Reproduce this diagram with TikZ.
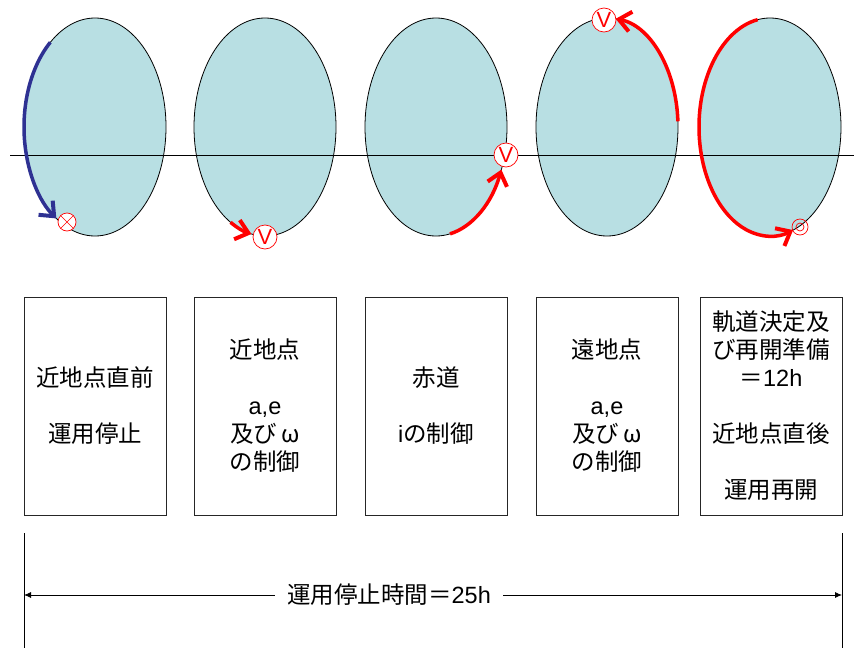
\documentclass[tikz,border=0pt]{standalone}
\usepackage{fontspec}
\setmainfont{Liberation Sans}
\newfontfamily\jp{Noto Sans CJK JP}
\newfontfamily\jpfw[RawFeature=+fwid]{Noto Sans CJK JP}
\usetikzlibrary{arrows.meta,shapes.geometric}
\definecolor{orbfill}{RGB}{184,223,227}
\definecolor{navyarc}{RGB}{46,49,146}
\newcommand\lat[1]{{\rmfamily #1}}
\newcommand\omg{{\jpfw ω}}
\begin{document}
\begin{tikzpicture}[x=1pt,y=-1pt,
  orbit/.style={ellipse,draw=black,line width=0.8pt,fill=orbfill,minimum width=142pt,minimum height=218pt,inner sep=0},
  phasebox/.style={draw=black!85,line width=1pt,minimum width=142pt,minimum height=218pt,align=center,font=\jp\fontsize{23.5}{28}\selectfont,inner sep=0},
  thr/.style={line width=3.5pt,red,-{Straight Barb[length=12pt,width=20pt,line width=4pt]}},
  thb/.style={thr,navyarc},
  vmark/.style={circle,draw=red,line width=0.7pt,fill=white,minimum size=24pt,inner sep=0,text=red,font=\rmfamily\fontsize{22}{22}\selectfont},
  xmark/.style={circle,draw=red,line width=0.7pt,fill=white,minimum size=18pt,inner sep=0},
  omark/.style={circle,draw=red,line width=0.7pt,inner sep=0},
  thin/.style={line width=0.8pt,black},
]
\useasboundingbox (0,0) rectangle (854,648);

% orbits
\node[orbit] (e1) at (95,127) {};
\node[orbit] (e2) at (265,127) {};
\node[orbit] (e3) at (436,127) {};
\node[orbit] (e4) at (607,127) {};
\node[orbit] (e5) at (770,127) {};

% equator line
\coordinate (hl) at (10,155);
\coordinate (hr) at (854,155);
\draw[thin] (hl) -- (hr);

% manoeuvre arcs
\draw[thb] ([shift={(-129:71 and 109)}]e1.center) arc[start angle=-129,end angle=-237,x radius=71,y radius=109];
\draw[thr] ([shift={(119:71 and 109)}]e2.center) arc[start angle=119,end angle=101,x radius=71,y radius=109];
\draw[thr] ([shift={(78.6:71 and 109)}]e3.center) arc[start angle=78.6,end angle=23,x radius=71,y radius=109];
\draw[thr] ([shift={(-3:71 and 109)}]e4.center) arc[start angle=-3,end angle=-83,x radius=71,y radius=109];
\draw[thr] ([shift={(-100:71 and 109)}]e5.center) arc[start angle=-100,end angle=-289,x radius=71,y radius=109];

% markers
\node[xmark] (m1) at (67,222) {};
\draw[red,line width=0.7pt] (m1.north east) -- (m1.south west) (m1.north west) -- (m1.south east);
\node[vmark] (m2) at (265,237) {V};
\node[vmark] (m3) at (506,155) {V};
\node[vmark] (m4) at (604,20) {V};
\node[omark,minimum size=16pt] (m5) at (800,227) {};
\node[omark,minimum size=8pt] (m5i) at (m5) {};

% phase boxes
\node[phasebox] (b1) at (95,406) {近地点直前\\[28pt]運用停止};
\node[phasebox] (b2) at (265,406) {近地点\\[28pt]\lat{a,e}\\及び\,\omg\\の制御};
\node[phasebox] (b3) at (436,406) {赤道\\[28pt]\lat{i}の制御};
\node[phasebox] (b4) at (607,406) {遠地点\\[28pt]\lat{a,e}\\及び\,\omg\\の制御};
\node[phasebox] (b5) at (771,406) {軌道決定及\\び再開準備\\＝\lat{12h}\\[28pt]近地点直後\\[28pt]運用再開};

% duration dimension
\coordinate (vl1t) at (24,533);
\coordinate (vl1b) at (24,648);
\coordinate (vl2t) at (842,533);
\coordinate (vl2b) at (842,648);
\draw[thin] (vl1t) -- (vl1b);
\draw[thin] (vl2t) -- (vl2b);
\node[inner xsep=12pt,inner ysep=0,font=\jp\fontsize{23.5}{28}\selectfont] (dur) at (389,595) {運用停止時間＝\lat{25h}};
\coordinate (dl) at (24,595);
\coordinate (dr) at (842,595);
\draw[thin,-{Latex[length=7pt,width=6pt]}] (dur.west) -- (dl);
\draw[thin,-{Latex[length=7pt,width=6pt]}] (dur.east) -- (dr);
\end{tikzpicture}
\end{document}
